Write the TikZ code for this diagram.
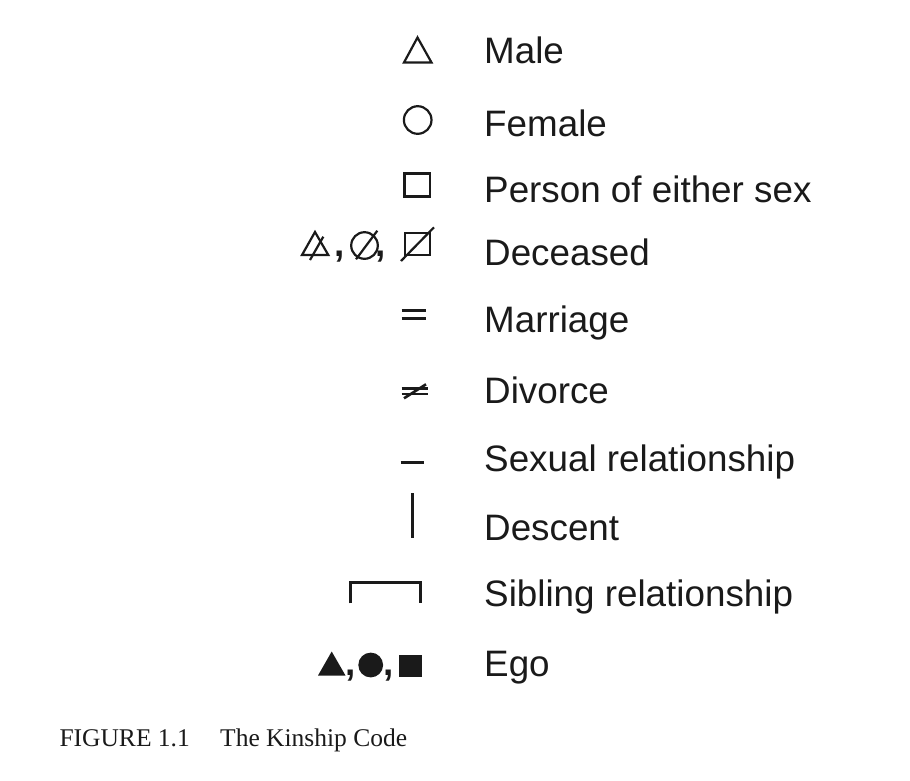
\documentclass[tikz,border=0pt]{standalone}
\usepackage{fontspec}
\setmainfont{Liberation Sans}
\newfontfamily\capfont{Liberation Serif}
\definecolor{ink}{RGB}{26,26,26}
\begin{document}
\begin{tikzpicture}[x=1pt,y=-1pt,
  lbl/.style={anchor=base west,inner sep=0pt,text=ink,font=\fontsize{36.8}{44}\selectfont},
  cma/.style={anchor=base,inner sep=0pt,text=ink,font=\fontsize{36.8}{44}\selectfont\bfseries},
  captxt/.style={anchor=base west,inner sep=0pt,text=ink,font=\capfont\fontsize{25.5}{30}\selectfont},
  sym/.style={draw=ink,line width=2.2pt,line join=miter},
  bar/.style={draw=ink,line width=3pt},
  solid sym/.style={fill=ink,draw=none}]
\useasboundingbox (0,0) rectangle (910,780);

% labels
\node[lbl] (tmale) at (484,63.3) {Male};
\node[lbl] (tfem) at (484,136) {Female};
\node[lbl] (tpers) at (484,202.7) {Person of either sex};
\node[lbl] (tdec) at (484,265) {Deceased};
\node[lbl] (tmar) at (484,332.7) {Marriage};
\node[lbl] (tdiv) at (484,403.3) {Divorce};
\node[lbl] (tsex) at (484,471.7) {Sexual relationship};
\node[lbl] (tdesc) at (484,540) {Descent};
\node[lbl] (tsib) at (484,606.7) {Sibling relationship};
\node[lbl] (tego) at (484,676.7) {Ego};

% male
\draw[sym] (404,62.5) -- (431.5,62.5) -- (417.5,37.5) -- cycle;
% female
\draw[sym] (417.7,120) circle (13.8);
% person
\draw[sym] (404.5,173.5) rectangle (430,196.5);

% deceased
\draw[sym] (302,255) -- (328.3,255) -- (315,232) -- cycle;
\draw[sym] (310,260) -- (323.3,236.7);
\node[cma] (c1) at (339.3,256) {,};
\draw[sym] (364.5,245.5) circle (13.3);
\draw[sym] (356,259.3) -- (377.3,230.7);
\node[cma] (c2) at (380.7,256) {,};
\draw[sym] (405,233.3) rectangle (430,255);
\draw[sym] (401,261) -- (434,227.3);

% marriage
\draw[bar] (401.7,310) -- (426,310);
\draw[bar] (401.7,318.3) -- (426,318.3);
% divorce
\draw[bar,line width=2.6pt] (401.7,388.3) -- (428.3,388.3);
\draw[bar,line width=2.6pt] (401.7,393.8) -- (428.3,393.8);
\draw[bar,line width=2.6pt] (404,398.3) -- (426,384.3);
% sexual relationship
\draw[bar] (400.7,462.3) -- (424.3,462.3);
% descent
\draw[bar,line width=2.7pt] (412.2,493) -- (412.2,538.3);
% sibling
\draw[sym,line width=2.6pt] (350.7,603.3) -- (350.7,582.7) -- (420.7,582.7) -- (420.7,603.3);

% ego
\fill[solid sym] (318,675.5) -- (345.5,675.5) -- (331.7,651.5) -- cycle;
\node[cma] (c3) at (350.7,675.5) {,};
\fill[solid sym] (370.7,665) circle (12.4);
\node[cma] (c4) at (388.3,675.5) {,};
\fill[solid sym] (399.3,655) rectangle (421.7,677.3);

% caption
\node[captxt] (fig) at (59.3,746.7) {FIGURE 1.1};
\node[captxt] (title) at (220,746.7) {The Kinship Code};
\end{tikzpicture}
\end{document}
